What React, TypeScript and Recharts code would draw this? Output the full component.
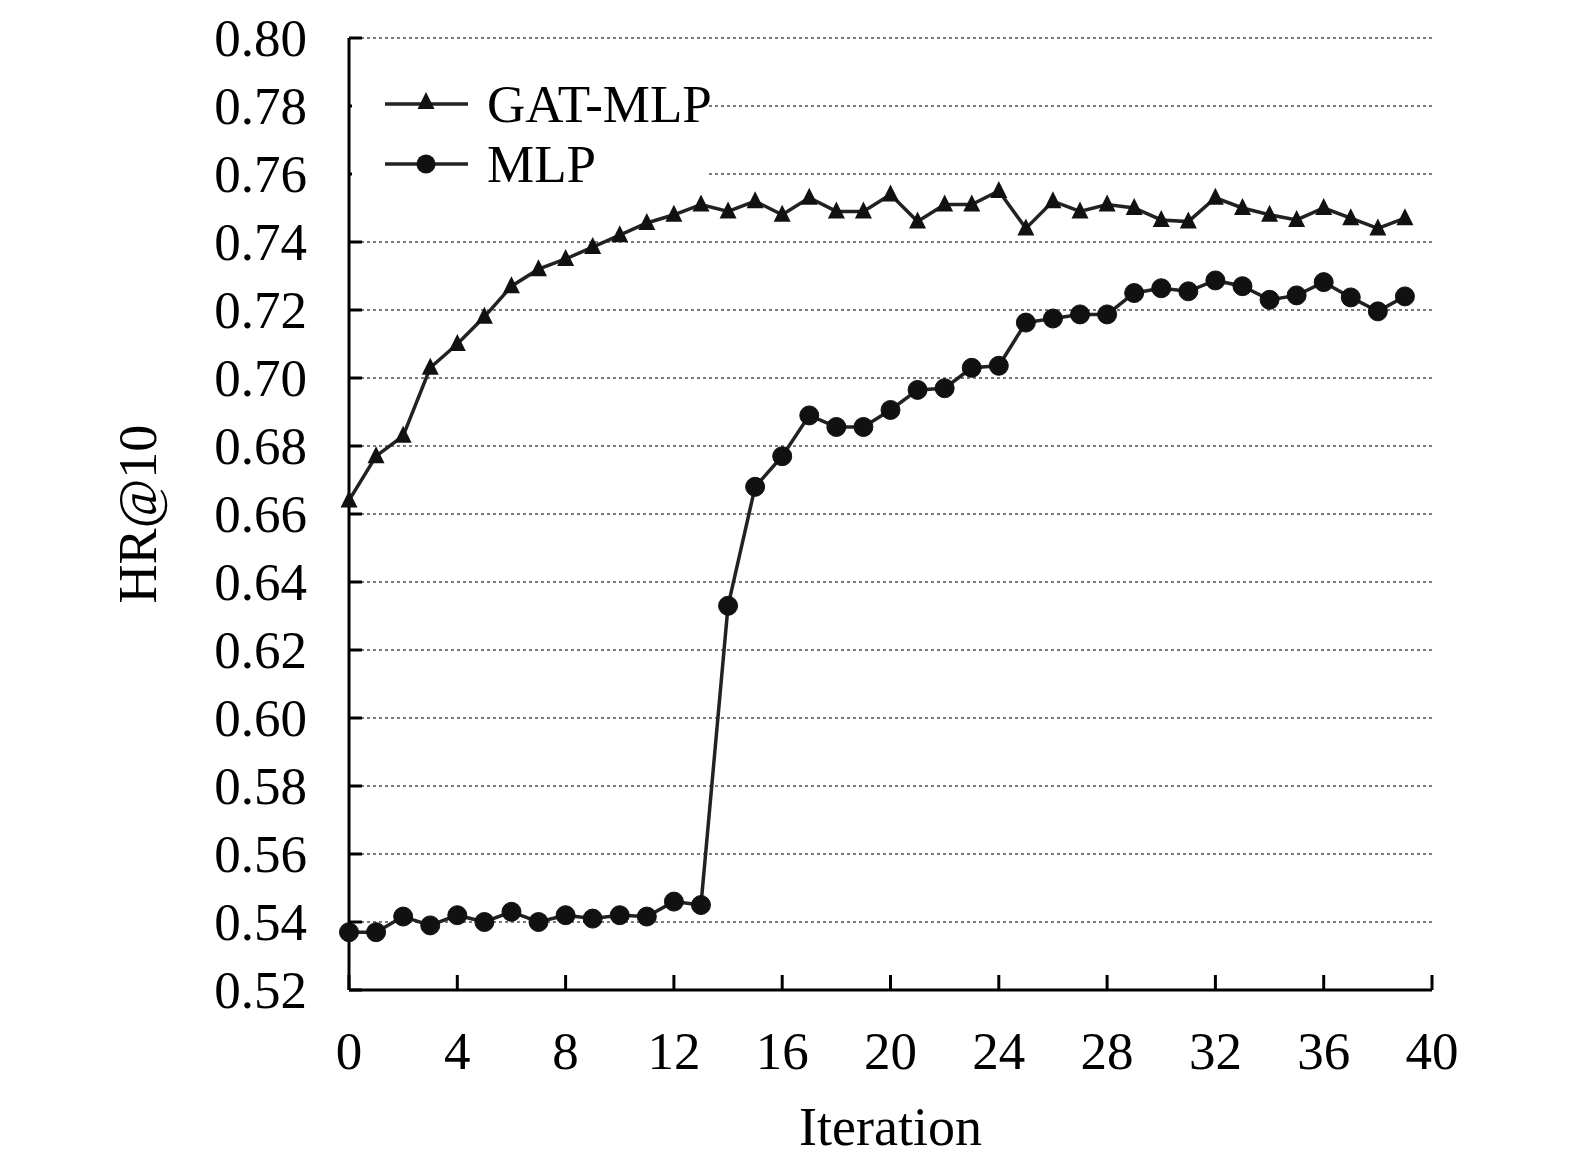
import React from 'react';
import { LineChart, Line, XAxis, YAxis, CartesianGrid, Legend, Label } from 'recharts';

const iterations = Array.from({ length: 40 }, (_, i) => i);
const gatMlp = [
  0.664, 0.677, 0.683, 0.703, 0.710, 0.718, 0.727, 0.732, 0.735, 0.7385,
  0.742, 0.7456, 0.748, 0.751, 0.749, 0.752, 0.748, 0.753, 0.749, 0.749,
  0.754, 0.746, 0.751, 0.751, 0.755, 0.744, 0.752, 0.749, 0.751, 0.750,
  0.7465, 0.746, 0.753, 0.750, 0.748, 0.7465, 0.750, 0.747, 0.744, 0.747,
];
const mlp = [
  0.537, 0.537, 0.5416, 0.539, 0.542, 0.540, 0.543, 0.540, 0.542, 0.541,
  0.542, 0.5416, 0.546, 0.545, 0.633, 0.668, 0.677, 0.689, 0.6856, 0.6856,
  0.6906, 0.6965, 0.697, 0.703, 0.7036, 0.7163, 0.7175, 0.7187, 0.7187, 0.725,
  0.7264, 0.7255, 0.7287, 0.727, 0.723, 0.7243, 0.7282, 0.7237, 0.7196, 0.724,
];
const xTicks = [0, 4, 8, 12, 16, 20, 24, 28, 32, 36, 40];
const yTicks = [0.52, 0.54, 0.56, 0.58, 0.60, 0.62, 0.64, 0.66, 0.68, 0.70, 0.72, 0.74, 0.76, 0.78, 0.80];

const data = iterations.map((it, i) => ({ it, gat: gatMlp[i], mlp: mlp[i] }));

const FONT = '"Liberation Serif", "Times New Roman", serif';
const FS = 53;

const Triangle = (props: any) => {
  const { cx, cy } = props;
  if (cx == null || cy == null) return null;
  return <polygon points={`${cx},${cy - 10} ${cx - 8.5},${cy + 7} ${cx + 8.5},${cy + 7}`} fill="#111" />;
};

const YTick = (props: any) => {
  const { x, y, payload } = props;
  return (
    <g>
      <line x1={x + 42} x2={x + 55} y1={y} y2={y} stroke="#000" strokeWidth={3} />
      <text x={x} y={y} textAnchor="end" dominantBaseline="central" fontFamily={FONT} fontSize={FS} fill="#000">
        {payload.value.toFixed(2)}
      </text>
    </g>
  );
};

const XTick = (props: any) => {
  const { x, y, payload } = props;
  return (
    <g>
      <line x1={x} x2={x} y1={y} y2={y - 15} stroke="#000" strokeWidth={3} />
      <text x={x} y={y + 79} textAnchor="middle" fontFamily={FONT} fontSize={FS} fill="#000">
        {payload.value}
      </text>
    </g>
  );
};

const LegendContent = () => (
  <svg width={420} height={135} style={{ display: 'block', overflow: 'visible' }}>
    <rect x={0} y={0} width={355} height={135} fill="#fff" />
    <line x1={33} x2={116} y1={44} y2={44} stroke="#222" strokeWidth={3.5} />
    <Triangle cx={74} cy={42} />
    <text x={135} y={44} dominantBaseline="central" fontFamily={FONT} fontSize={FS} fill="#000">GAT-MLP</text>
    <line x1={33} x2={116} y1={104} y2={104} stroke="#222" strokeWidth={3.5} />
    <circle cx={74} cy={104} r={9.5} fill="#111" />
    <text x={135} y={104} dominantBaseline="central" fontFamily={FONT} fontSize={FS} fill="#000">MLP</text>
  </svg>
);

export default function App() {
  return (
    <LineChart width={1559} height={1150} data={data} margin={{ top: 30, right: 135, bottom: 0, left: 0 }}>
      <CartesianGrid vertical={false} stroke="#7a7a7a" strokeWidth={2} strokeDasharray="3 3" />
      <XAxis
        dataKey="it"
        type="number"
        domain={[0, 40]}
        ticks={xTicks}
        height={168}
        tickSize={0}
        tickMargin={0}
        tickLine={false}
        tick={<XTick />}
        axisLine={{ stroke: '#000', strokeWidth: 3 }}
        interval={0}
      >
        <Label
          content={({ viewBox }: any) => (
            <text x={viewBox.x + viewBox.width / 2} y={1137} textAnchor="middle" fontFamily={FONT} fontSize={FS + 1} fill="#000">
              Iteration
            </text>
          )}
        />
      </XAxis>
      <YAxis
        type="number"
        domain={[0.52, 0.8]}
        ticks={yTicks}
        width={341}
        tickSize={0}
        tickMargin={42}
        tickLine={false}
        tick={<YTick />}
        axisLine={{ stroke: '#000', strokeWidth: 3 }}
        interval={0}
      >
        <Label
          content={({ viewBox }: any) => {
            const cy = viewBox.y + viewBox.height / 2;
            return (
              <text x={130} y={cy} transform={`rotate(-90, 130, ${cy})`} textAnchor="middle" dominantBaseline="central" fontFamily={FONT} fontSize={FS + 1} fill="#000">
                HR@10
              </text>
            );
          }}
        />
      </YAxis>
      <Legend
        content={<LegendContent />}
        wrapperStyle={{ position: 'absolute', left: 344, top: 52, width: 0, height: 0, overflow: 'visible' }}
      />
      <Line dataKey="gat" name="GAT-MLP" stroke="#222" strokeWidth={3.5} dot={<Triangle />} activeDot={false} isAnimationActive={false} />
      <Line dataKey="mlp" name="MLP" stroke="#222" strokeWidth={3.5} dot={{ r: 9.5, fill: '#111', stroke: '#111', strokeWidth: 1 }} activeDot={false} isAnimationActive={false} />
    </LineChart>
  );
}
